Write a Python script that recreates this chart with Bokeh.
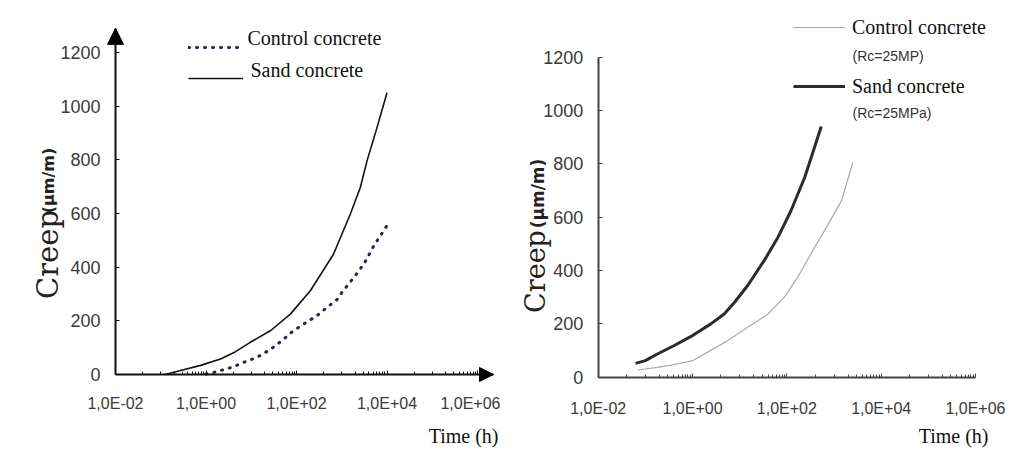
import math
from bokeh.plotting import figure
from bokeh.layouts import row
from bokeh.models import (FixedTicker, CustomJSTickFormatter, Legend, LegendItem,
                          Label, Arrow, NormalHead, Range1d)
from bokeh.embed import file_html
from bokeh.resources import INLINE

# ---------------- data ----------------
# Left panel
left_sand_t = [0.126, 0.275, 0.76, 2.1, 4.5, 9.5, 27, 74, 204, 660, 1550, 2570, 3630, 6030, 10000]
left_sand_creep = [0, 15, 34, 58, 85, 120, 164, 226, 313, 449, 598, 697, 797, 921, 1050]
left_ctrl_t = [1.0, 1.5, 2.5, 4.1, 6.3, 9.5, 16, 26, 35, 48, 79, 129, 204, 288, 479, 776,
               1020, 1860, 3090, 5130, 10000]
left_ctrl_creep = [2, 8, 18, 29, 43, 54, 71, 93, 108, 127, 158, 183, 204, 220, 251, 278,
                   307, 362, 412, 480, 555]

# Right panel
right_sand_t = [0.062, 0.1, 0.18, 0.41, 1.0, 2.45, 4.7, 7.8, 14.8, 33, 65, 123, 240, 537]
right_sand_creep = [52, 62, 87, 119, 156, 200, 237, 281, 344, 437, 525, 625, 750, 940]
right_ctrl_t = [0.068, 0.18, 0.41, 1.0, 2.1, 5.5, 14.8, 40, 89, 170, 355, 690, 1445, 2510]
right_ctrl_creep = [27, 37, 47, 62, 94, 137, 187, 237, 300, 375, 475, 562, 662, 806]

x_ticks = [1e-2, 1e0, 1e2, 1e4, 1e6]
x_tick_labels = ["1,0E-02", "1,0E+00", "1,0E+02", "1,0E+04", "1,0E+06"]
y_ticks = [0, 200, 400, 600, 800, 1000, 1200]

legend_labels = ["Control concrete", "Sand concrete"]
right_sublabels = ["(Rc=25MP)", "(Rc=25MPa)"]
y_label_main = "Creep"
y_label_unit = "(\u00b5m/m)"
x_label = "Time (h)"

# minor ticks (Excel-like log axis with major unit 100)
minor_ticks = []
for t in x_ticks[:-1]:
    minor_ticks.append(4 * t)
    for m in range(1, 10):
        minor_ticks.append(m * t * 10)

fmt_code = """
for (let i = 0; i < tvals.length; i++) {
  if (Math.abs(Math.log10(tick) - Math.log10(tvals[i])) < 1e-6) return tlabels[i];
}
return "";
"""

H = 456


def log_range(px_origin, px_per_decade, width):
    """x range so that x_ticks[0] sits at px_origin (frame covers the whole canvas)."""
    lo = math.log10(x_ticks[0])
    return Range1d(10 ** (lo - px_origin / px_per_decade),
                   10 ** (lo + (width - px_origin) / px_per_decade))


def lin_range(py_zero, px_per_unit):
    return Range1d(-(H - py_zero) / px_per_unit, py_zero / px_per_unit)


def make_fig(width, xr, yr):
    p = figure(width=width, height=H, x_axis_type="log", x_range=xr, y_range=yr,
               output_backend="svg", toolbar_location=None,
               min_border=0, min_border_left=0, min_border_right=0,
               min_border_top=0, min_border_bottom=0)
    p.grid.visible = False
    p.outline_line_color = None
    p.background_fill_color = "white"
    p.border_fill_color = "white"
    return p


def style(p, axis_color, xbounds, ybounds, x_standoff=20):
    xa = p.xaxis[0]
    ya = p.yaxis[0]
    xa.fixed_location = 0
    ya.fixed_location = x_ticks[0]
    xa.ticker = FixedTicker(ticks=x_ticks, minor_ticks=minor_ticks)
    xa.formatter = CustomJSTickFormatter(args=dict(tvals=x_ticks, tlabels=x_tick_labels), code=fmt_code)
    ya.ticker = FixedTicker(ticks=y_ticks)
    for a in (xa, ya):
        a.axis_line_color = axis_color
        a.axis_line_width = 2
        a.major_tick_line_color = axis_color
        a.major_tick_in = 4
        a.major_tick_out = 0
        a.minor_tick_line_color = axis_color
        a.minor_tick_in = 3
        a.minor_tick_out = 0
        a.major_label_text_color = "#3a3a3a"
        a.major_label_text_font = "Liberation Sans"
    ya.minor_tick_line_color = None
    xa.major_label_text_font_size = "16px"
    ya.major_label_text_font_size = "18px"
    xa.major_label_standoff = x_standoff
    ya.major_label_standoff = 15
    xa.bounds = xbounds
    ya.bounds = ybounds


def text(p, x, y, s, font="Liberation Serif", size="20px", align="left", angle=0.0,
         style_="normal", color="#111111"):
    p.add_layout(Label(x=x, y=y, x_units="screen", y_units="screen", text=s, angle=angle,
                       text_align=align, text_baseline="middle", text_font=font,
                       text_font_size=size, text_font_style=style_, text_color=color))


def ylabels(p, x_main, y_main, x_unit, y_unit, main_size, unit_size):
    text(p, x_main, y_main, y_label_main, font="DejaVu Serif", size=main_size, align="center",
         angle=math.pi / 2, color="#222222")
    text(p, x_unit, y_unit, y_label_unit, font="DejaVu Sans", size=unit_size, align="center",
         angle=math.pi / 2, style_="bold", color="#222222")


# ---------------- left panel ----------------
L_XEND = 10 ** 6.354     # x-axis arrow tip
L_YARROW = 1290          # y-axis arrow tip
p1 = make_fig(500, log_range(115, 45.25, 500), lin_range(374, 322 / 1200))
style(p1, "#111111", (x_ticks[0], L_XEND), (0, L_YARROW), x_standoff=20)

r1_ctrl = p1.line(left_ctrl_t, left_ctrl_creep, line_color="#24245c", line_width=3,
                  line_dash="1 7", line_cap="round")
r1_sand = p1.line(left_sand_t, left_sand_creep, line_color="#111111", line_width=1.6)

p1.add_layout(Arrow(end=NormalHead(size=14, fill_color="black", line_color="black"),
                    x_start=x_ticks[0], y_start=0, x_end=L_XEND, y_end=0, line_alpha=0))
p1.add_layout(Arrow(end=NormalHead(size=16, fill_color="black", line_color="black"),
                    x_start=x_ticks[0], y_start=y_ticks[-1], x_end=x_ticks[0], y_end=L_YARROW,
                    line_alpha=0))

leg1 = Legend(items=[LegendItem(label=" ", renderers=[r1_ctrl]),
                     LegendItem(label=" ", renderers=[r1_sand])],
              location=(188, H - 91), glyph_width=55, glyph_height=26, label_height=26,
              label_standoff=0, spacing=5, padding=0, margin=0,
              border_line_color=None, background_fill_alpha=0,
              label_text_font_size="4px")
p1.add_layout(leg1)
text(p1, 247, H - 37, legend_labels[0])
text(p1, 250, H - 69, legend_labels[1])
ylabels(p1, 47, H - 254, 48, H - 180, "29px", "16px")
text(p1, 498, H - 435, x_label, align="right")

# ---------------- right panel ----------------
p2 = make_fig(509, log_range(97.7, 47.16, 509), lin_range(376.7, 320 / 1200))
style(p2, "#444444", (x_ticks[0], x_ticks[-1]), (y_ticks[0], y_ticks[-1]), x_standoff=23)

r2_ctrl = p2.line(right_ctrl_t, right_ctrl_creep, line_color="#aaaaaa", line_width=1.2)
r2_sand = p2.line(right_sand_t, right_sand_creep, line_color="#2b2b2b", line_width=3)

leg2 = Legend(items=[LegendItem(label=legend_labels[0], renderers=[r2_ctrl]),
                     LegendItem(label=legend_labels[1], renderers=[r2_sand])],
              location=(293, H - 99), glyph_width=52, glyph_height=26, label_height=26,
              label_standoff=7, spacing=33, padding=0, margin=0,
              border_line_color=None, background_fill_alpha=0,
              label_text_font="Liberation Serif", label_text_font_size="20px",
              label_text_baseline="middle", label_text_color="#111111")
p2.add_layout(leg2)

text(p2, 352, H - 55, right_sublabels[0], font="Liberation Sans", size="14px", color="#333333")
text(p2, 352, H - 112, right_sublabels[1], font="Liberation Sans", size="14px", color="#333333")
ylabels(p2, 35, H - 271, 37, H - 193, "27px", "17px")
text(p2, 488, H - 435, x_label, align="right")

layout = row(p1, p2, spacing=0)
open("out.html", "w").write(file_html(layout, INLINE))
